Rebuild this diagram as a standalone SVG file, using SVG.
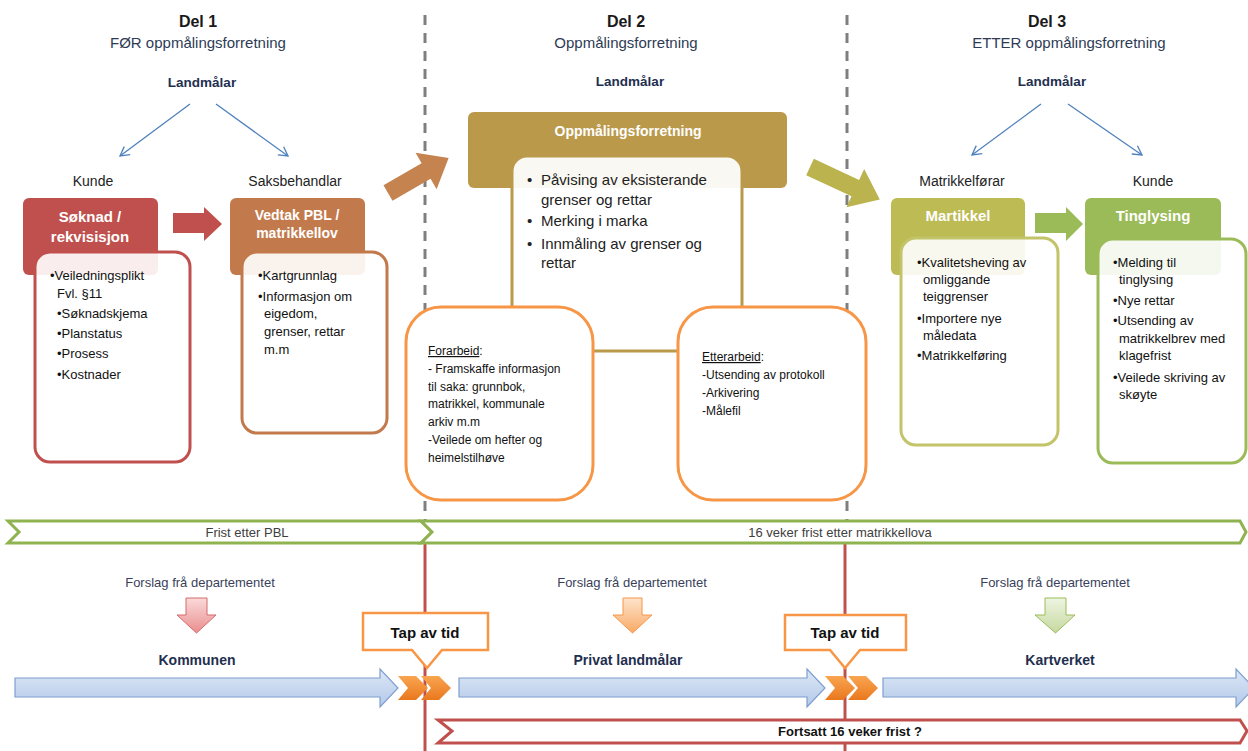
<svg xmlns="http://www.w3.org/2000/svg" width="1248" height="751" viewBox="0 0 1248 751">
<style>
text{font-family:"Liberation Sans",Arial,sans-serif;}
.h{font-weight:bold;font-size:16px;fill:#1a1a1a;text-anchor:middle}
.sub{font-size:15px;fill:#2E3B55;text-anchor:middle}
.lm{font-weight:bold;font-size:13.5px;fill:#1F2F4F;text-anchor:middle}
.role{font-size:14px;fill:#222;text-anchor:middle}
.hd{font-weight:bold;font-size:15px;fill:#fff;text-anchor:middle}
.b13{font-size:13px;fill:#111}
.b15{font-size:15px;fill:#222}
.b12{font-size:12px;fill:#111}
.bar{font-size:13px;fill:#404040;text-anchor:middle}
.fd{font-size:13px;fill:#3A3F5C;text-anchor:middle}
.org{font-weight:bold;font-size:14px;fill:#1F2F4F;text-anchor:middle}
.tap{font-weight:bold;font-size:15px;fill:#111;text-anchor:middle}
.inner{fill:#fff;fill-opacity:0.9;stroke-width:3}
.dash{stroke:#7F7F7F;stroke-width:3;stroke-dasharray:10 8;fill:none}
.redv{stroke:#C0504D;stroke-width:3;fill:none}
.blue{fill:url(#gBlue);stroke:#7E9ED0;stroke-width:1.2}
.chev{fill:url(#gOr);stroke:none}
.call{fill:#fff;stroke:#F79646;stroke-width:2.5}
.conn{stroke:#4F81BD;stroke-width:1.3;fill:none;marker-end:url(#open)}
</style>
<defs>
<marker id="open" markerUnits="userSpaceOnUse" markerWidth="14" markerHeight="14" refX="10" refY="6" orient="auto">
<path d="M1,1 L10,6 L1,11" fill="none" stroke="#4F81BD" stroke-width="1.3"/>
</marker>
<linearGradient id="gBlue" x1="0" y1="0" x2="0" y2="1"><stop offset="0" stop-color="#DCE7F5"/><stop offset="1" stop-color="#B3C9E9"/></linearGradient>
<linearGradient id="gOr" x1="0" y1="0" x2="0" y2="1"><stop offset="0" stop-color="#F9A550"/><stop offset="1" stop-color="#E9781E"/></linearGradient>
<linearGradient id="gPink" x1="0" y1="0" x2="0" y2="1"><stop offset="0" stop-color="#FADADA"/><stop offset="1" stop-color="#EA8E8E"/></linearGradient>
<linearGradient id="gPeach" x1="0" y1="0" x2="0" y2="1"><stop offset="0" stop-color="#FDE3CB"/><stop offset="1" stop-color="#F9AA66"/></linearGradient>
<linearGradient id="gGreen" x1="0" y1="0" x2="0" y2="1"><stop offset="0" stop-color="#EEF4E2"/><stop offset="1" stop-color="#C6D99F"/></linearGradient>
</defs>
<rect width="1248" height="751" fill="#fff"/>

<g id="dividers">
<line class="dash" x1="425" y1="15" x2="425" y2="520"/>
<line class="dash" x1="847" y1="15" x2="847" y2="520"/>
<line class="redv" x1="425" y1="543" x2="425" y2="751"/>
<line class="redv" x1="845" y1="543" x2="845" y2="751"/>
</g>

<g id="headings">
<text class="h" x="198" y="27">Del 1</text>
<text class="sub" x="198" y="48">FØR oppmålingsforretning</text>
<text class="lm" x="202" y="87">Landmålar</text>
<text class="h" x="626" y="27">Del 2</text>
<text class="sub" x="626" y="48">Oppmålingsforretning</text>
<text class="lm" x="630" y="86">Landmålar</text>
<text class="h" x="1047" y="27">Del 3</text>
<text class="sub" x="1069" y="48">ETTER oppmålingsforretning</text>
<text class="lm" x="1052" y="86">Landmålar</text>
<text class="role" x="93" y="186">Kunde</text>
<text class="role" x="295" y="186">Saksbehandlar</text>
<text class="role" x="962" y="186">Matrikkelførar</text>
<text class="role" x="1153" y="186">Kunde</text>
</g>

<g id="connectors">
<line class="conn" x1="190" y1="104" x2="120" y2="156"/>
<line class="conn" x1="216" y1="104" x2="288" y2="156"/>
<line class="conn" x1="1041" y1="104" x2="972" y2="155"/>
<line class="conn" x1="1068" y1="104" x2="1142" y2="155"/>
<polygon fill="#C0504D" points="173,213 204,213 204,207 222,224 204,241 204,233 173,233"/>
<polygon fill="#9BBB59" points="1035,213 1066,213 1066,207 1083,224 1066,241 1066,233 1035,233"/>
<polygon fill="#C5834F" transform="translate(388,193) rotate(-30)" points="0,-9 44,-9 44,-21 70,0 44,21 44,9 0,9"/>
<polygon fill="#BBB34E" transform="translate(810,167) rotate(25)" points="0,-9 50,-9 50,-21 77,0 50,21 50,9 0,9"/>
</g>

<g id="soknad">
<rect x="23" y="198" width="135" height="77" rx="6" fill="#C0504D"/>
<text class="hd" x="90" y="222">Søknad /</text>
<text class="hd" x="90" y="242">rekvisisjon</text>
<rect class="inner" x="35" y="252" width="155" height="210" rx="15" stroke="#C0504D"/>
<text class="b13" x="50" y="280">•Veiledningsplikt</text>
<text class="b13" x="57" y="298">Fvl. §11</text>
<text class="b13" x="57" y="318">•Søknadskjema</text>
<text class="b13" x="57" y="338">•Planstatus</text>
<text class="b13" x="57" y="358">•Prosess</text>
<text class="b13" x="57" y="379">•Kostnader</text>
</g>

<g id="vedtak">
<rect x="230" y="198" width="135" height="77" rx="6" fill="#C27A4C"/>
<text class="hd" x="297" y="220" style="font-size:14px">Vedtak PBL /</text>
<text class="hd" x="297" y="238" style="font-size:14px">matrikkellov</text>
<rect class="inner" x="242" y="252" width="145" height="181" rx="15" stroke="#C27A4C"/>
<text class="b13" x="258" y="280">•Kartgrunnlag</text>
<text class="b13" x="258" y="301">•Informasjon om</text>
<text class="b13" x="264" y="318">eigedom,</text>
<text class="b13" x="264" y="336">grenser, rettar</text>
<text class="b13" x="264" y="354">m.m</text>
</g>

<g id="oppmaling">
<rect x="468" y="112" width="319" height="76" rx="6" fill="#BA994B"/>
<text class="hd" x="628" y="136" style="font-size:14px">Oppmålingsforretning</text>
<rect x="512" y="156" width="230" height="195" rx="15" fill="#fff" fill-opacity="0.93" stroke="#BA994B" stroke-width="3"/>
<text class="b15" x="527" y="185">•</text><text class="b15" x="541" y="185">Påvising av eksisterande</text>
<text class="b15" x="541" y="205">grenser og rettar</text>
<text class="b15" x="527" y="226">•</text><text class="b15" x="541" y="226">Merking i marka</text>
<text class="b15" x="527" y="249">•</text><text class="b15" x="541" y="249">Innmåling av grenser og</text>
<text class="b15" x="541" y="268">rettar</text>
</g>

<g id="forarbeid">
<rect x="406" y="307" width="187" height="193" rx="35" fill="#fff" stroke="#F79646" stroke-width="3"/>
<text class="b12" x="428" y="355"><tspan text-decoration="underline">Forarbeid</tspan>:</text>
<text class="b12" x="428" y="373">- Framskaffe informasjon</text>
<text class="b12" x="428" y="391">til saka: grunnbok,</text>
<text class="b12" x="428" y="408">matrikkel, kommunale</text>
<text class="b12" x="428" y="426">arkiv m.m</text>
<text class="b12" x="428" y="444">-Veilede om hefter og</text>
<text class="b12" x="428" y="462">heimelstilhøve</text>
</g>

<g id="etterarbeid">
<rect x="678" y="307" width="188" height="193" rx="35" fill="#fff" stroke="#F79646" stroke-width="3"/>
<text class="b12" x="702" y="361"><tspan text-decoration="underline">Etterarbeid</tspan>:</text>
<text class="b12" x="702" y="379">-Utsending av protokoll</text>
<text class="b12" x="702" y="397">-Arkivering</text>
<text class="b12" x="702" y="415">-Målefil</text>
</g>

<g id="martikkel">
<rect x="891" y="198" width="134" height="77" rx="6" fill="#BDBB54"/>
<text class="hd" x="958" y="221">Martikkel</text>
<rect class="inner" x="901" y="238" width="157" height="207" rx="15" stroke="#C3C46A"/>
<text class="b13" x="917" y="267">•Kvalitetsheving av</text>
<text class="b13" x="923" y="284">omliggande</text>
<text class="b13" x="923" y="301">teiggrenser</text>
<text class="b13" x="917" y="323">•Importere nye</text>
<text class="b13" x="923" y="340">måledata</text>
<text class="b13" x="917" y="360">•Matrikkelføring</text>
</g>

<g id="tinglysing">
<rect x="1085" y="198" width="136" height="77" rx="6" fill="#9BBB59"/>
<text class="hd" x="1153" y="221">Tinglysing</text>
<rect class="inner" x="1098" y="239" width="148" height="224" rx="15" stroke="#9BBB59"/>
<text class="b13" x="1113" y="267">•Melding til</text>
<text class="b13" x="1119" y="284">tinglysing</text>
<text class="b13" x="1113" y="305">•Nye rettar</text>
<text class="b13" x="1113" y="325">•Utsending av</text>
<text class="b13" x="1119" y="343">matrikkelbrev med</text>
<text class="b13" x="1119" y="360">klagefrist</text>
<text class="b13" x="1113" y="382">•Veilede skriving av</text>
<text class="b13" x="1119" y="399">skøyte</text>
</g>

<g id="frist-bars">
<polygon points="8,521 421,521 432,532 421,543 8,543 19,532" fill="#fff" stroke="#8FB350" stroke-width="3"/>
<text class="bar" x="247" y="537">Frist etter PBL</text>
<polygon points="421,521 1240,521 1246,532 1240,543 421,543 432,532" fill="#fff" stroke="#8FB350" stroke-width="3"/>
<text class="bar" x="840" y="537">16 veker frist etter matrikkellova</text>
</g>

<g id="kommunen">
<text class="fd" x="200" y="587">Forslag frå departementet</text>
<polygon points="186,598 207,598 207,615 216,615 196.5,633 177,615 186,615" fill="url(#gPink)" stroke="#D46A6A" stroke-width="1"/>
<text class="org" x="197" y="665">Kommunen</text>
<polygon class="blue" points="15,678 380,678 380,669 398,688 380,707 380,697 15,697"/>
</g>

<g id="privat">
<text class="fd" x="632" y="587">Forslag frå departementet</text>
<polygon points="623,598 642,598 642,615 652,615 632.5,633 613,615 623,615" fill="url(#gPeach)" stroke="#F79646" stroke-width="1"/>
<text class="org" x="628" y="665">Privat landmålar</text>
<polygon class="blue" points="459,678 807,678 807,669 825,688 807,707 807,697 459,697"/>
</g>

<g id="kartverket">
<text class="fd" x="1055" y="587">Forslag frå departementet</text>
<polygon points="1045,598 1066,598 1066,615 1075,615 1055.5,633 1035,615 1045,615" fill="url(#gGreen)" stroke="#9BBB59" stroke-width="1"/>
<text class="org" x="1060" y="665">Kartverket</text>
<polygon class="blue" points="883,678 1236,678 1236,669 1254,688 1236,707 1236,697 883,697"/>
</g>

<g id="tap1">
<polygon class="chev" points="398,676 416,676 428,688 416,700 398,700 408,688"/>
<polygon class="chev" points="421,676 439,676 451,688 439,700 421,700 431,688"/>
<path class="call" d="M363,613 H488 V650 H442 L427,668 L412,650 H363 Z"/>
<text class="tap" x="425" y="638">Tap av tid</text>
</g>

<g id="tap2">
<polygon class="chev" points="825,676 843,676 855,688 843,700 825,700 835,688"/>
<polygon class="chev" points="848,676 866,676 878,688 866,700 848,700 858,688"/>
<path class="call" d="M785,615 H906 V650 H860 L845,668 L830,650 H785 Z"/>
<text class="tap" x="845" y="638">Tap av tid</text>
</g>

<g id="fortsatt">
<polygon points="438,720 1240,720 1247,731 1240,743 438,743 452,731" fill="#fff" stroke="#C0504D" stroke-width="3"/>
<text x="850" y="736" style="font-weight:bold;font-size:13px;fill:#111;text-anchor:middle">Fortsatt 16 veker frist ?</text>
</g>
</svg>
